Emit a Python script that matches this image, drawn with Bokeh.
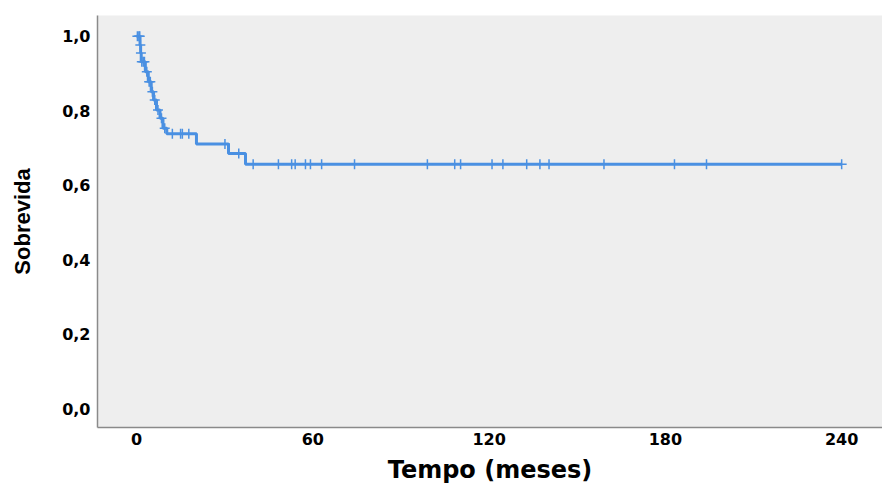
import numpy as np
from bokeh.plotting import figure
from bokeh.models import FixedTicker, Range1d, ColumnDataSource
from bokeh.embed import file_html
from bokeh.resources import INLINE

# Kaplan-Meier step data (time in months, survival)
event_times = [0.0, 1.2, 1.4, 1.6, 3.0, 4.0, 5.0, 5.8, 6.8, 8.0, 9.0, 10.3, 20.4, 31.3, 37.1]
survival    = [1.0, 0.977, 0.955, 0.932, 0.905, 0.878, 0.851, 0.829, 0.802, 0.780, 0.753, 0.738, 0.711, 0.685, 0.656]

# censored observations (time in months)
censor_times = [0.3, 0.8, 1.1, 1.3, 1.5, 1.8, 2.3, 2.7, 3.5, 4.3, 4.7, 5.4, 6.2, 7.3, 8.5, 9.6,
                12.2, 15.0, 15.6, 17.8, 30.1, 34.8, 39.7, 48.3, 52.8, 54.0, 57.5, 59.2, 63.0,
                74.2, 99.0, 108.3, 110.3, 121.0, 124.7, 132.8, 137.3, 140.4, 159.1, 183.1,
                194.0, 240.0]

x_ticks = [0, 60, 120, 180, 240]
x_tick_labels = ["0", "60", "120", "180", "240"]
y_ticks = [0.0, 0.2, 0.4, 0.6, 0.8, 1.0]
y_tick_labels = ["0,0", "0,2", "0,4", "0,6", "0,8", "1,0"]

BLUE = "#4a90e2"

p = figure(width=882, height=489, output_backend="svg", toolbar_location=None,
           x_range=Range1d(-13.28, 253.9), y_range=Range1d(-0.051, 1.056),
           min_border_left=97, min_border_right=0, min_border_top=15, min_border_bottom=62)
p.background_fill_color = "#eeeeee"
p.border_fill_color = "white"
p.outline_line_color = None
p.grid.visible = False

# step curve extended to the last follow-up time
st = list(event_times) + [max(censor_times)]
sv = list(survival) + [survival[-1]]
p.step(x=st, y=sv, mode="after", line_color=BLUE, line_width=3)

# censor marks placed on the curve
et = np.array(event_times)
sa = np.array(survival)
idx = np.searchsorted(et, np.array(censor_times), side="right") - 1
cy = sa[idx]
src = ColumnDataSource(dict(x=censor_times, y=cy))
p.scatter(x="x", y="y", source=src, marker="cross", size=10, line_color=BLUE, line_width=1.5)

for ax in (p.xaxis[0], p.yaxis[0]):
    ax.major_tick_line_color = None
    ax.minor_tick_line_color = None
    ax.major_tick_out = 0
    ax.major_tick_in = 0
    ax.axis_line_color = "#8a8a8a"
    ax.axis_line_width = 1.5
    ax.major_label_text_font = "DejaVu Sans"
    ax.major_label_text_font_style = "bold"
    ax.major_label_text_font_size = "16px"
    ax.major_label_text_color = "black"
    ax.axis_label_text_color = "black"
    ax.axis_label_text_font_style = "bold"

p.xaxis.ticker = FixedTicker(ticks=x_ticks)
p.xaxis.major_label_overrides = {t: l for t, l in zip(x_ticks, x_tick_labels)}
p.yaxis.ticker = FixedTicker(ticks=y_ticks)
p.yaxis.major_label_overrides = {t: l for t, l in zip(y_ticks, y_tick_labels)}

p.xaxis.major_label_standoff = 5
p.yaxis.major_label_standoff = 7

p.xaxis.axis_label = "Tempo (meses)"
p.xaxis.axis_label_text_font = "DejaVu Sans"
p.xaxis.axis_label_text_font_size = "24px"
p.xaxis.axis_label_standoff = 8

p.yaxis.axis_label = "Sobrevida"
p.yaxis.axis_label_text_font = "'Liberation Sans Narrow', 'Liberation Sans', sans-serif"
p.yaxis.axis_label_text_font_size = "22px"
p.yaxis.axis_label_standoff = 24

open("out.html", "w").write(file_html(p, INLINE))
